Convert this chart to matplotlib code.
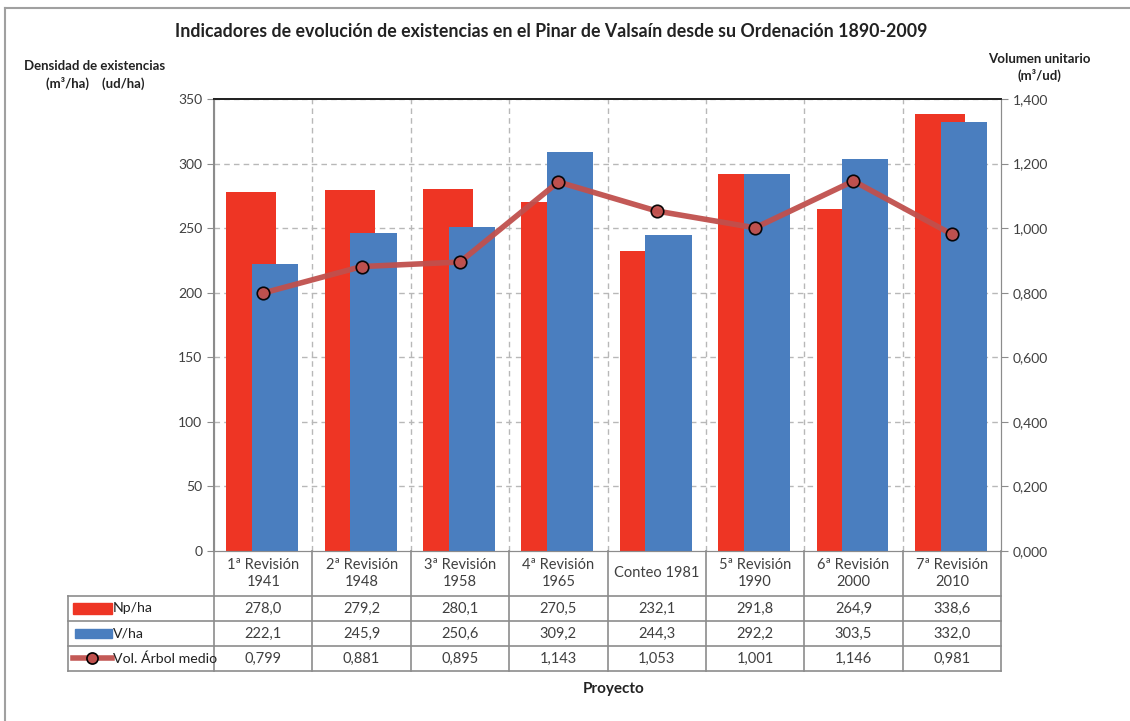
import matplotlib
matplotlib.use('Agg')
import matplotlib.pyplot as plt
from matplotlib.patches import Rectangle
from matplotlib.lines import Line2D
from matplotlib.ticker import FuncFormatter

plt.rcParams['font.family'] = ['Lato', 'DejaVu Sans']

# Data
categorias = ['1ª Revisión\n1941', '2ª Revisión\n1948', '3ª Revisión\n1958', '4ª Revisión\n1965',
              'Conteo 1981', '5ª Revisión\n1990', '6ª Revisión\n2000', '7ª Revisión\n2010']
np_ha = [278.0, 279.2, 280.1, 270.5, 232.1, 291.8, 264.9, 338.6]
v_ha = [222.1, 245.9, 250.6, 309.2, 244.3, 292.2, 303.5, 332.0]
vol_arbol = [0.799, 0.881, 0.895, 1.143, 1.053, 1.001, 1.146, 0.981]

rojo = '#EE3524'
azul = '#4A7EBF'
linea = '#C0504D'
texto = '#404040'
gris = '#8c8c8c'

fig = plt.figure(figsize=(11.3, 7.21), dpi=100)
ax = fig.add_axes([0.1894, 0.2358, 0.6965, 0.6269])
ax2 = ax.twinx()

x = list(range(len(categorias)))
ax.bar([i - 0.12 for i in x], np_ha, width=0.51, color=rojo, zorder=2)
ax.bar([i + 0.12 for i in x], v_ha, width=0.47, color=azul, zorder=3)

ax2.plot(x, vol_arbol, color=linea, lw=4, zorder=4, alpha=0.95,
         marker='o', markersize=9, markerfacecolor=linea, markeredgecolor='black', markeredgewidth=1.2)

ax.set_xlim(-0.5, len(categorias) - 0.5)
ax.set_ylim(0, 350)
ax.set_yticks(range(0, 351, 50))
ax2.set_ylim(0, 1.4)
ax2.set_yticks([i * 0.2 for i in range(8)])
ax2.yaxis.set_major_formatter(FuncFormatter(lambda v, p: '{:.3f}'.format(v).replace('.', ',')))

# grid
for yv in range(50, 351, 50):
    ax.axhline(yv, color='#b8b8b8', lw=1, ls=(0, (4, 3)), zorder=1)
for xv in x[:-1]:
    ax.axvline(xv + 0.5, color='#b8b8b8', lw=1, ls=(0, (4, 3)), zorder=1)

ax.set_xticks([])
for a in (ax, ax2):
    a.spines['top'].set_color('#222222')
    a.spines['top'].set_linewidth(1.3)
    a.spines['left'].set_color(gris)
    a.spines['right'].set_color(gris)
    a.spines['bottom'].set_color(gris)
    a.tick_params(axis='y', colors=gris, labelcolor=texto, labelsize=10, length=5)
ax.spines['left'].set_linewidth(1.5)
ax.set_zorder(ax2.get_zorder() - 1)
ax.patch.set_visible(False)
ax2.patch.set_visible(False)
ax.set_axisbelow(True)

# data table below the axes
tr = ax.get_xaxis_transform()
h_head = 45 / 452
h_row = 25 / 452
y_rows = [0, -h_head, -h_head - h_row, -h_head - 2 * h_row, -h_head - 3 * h_row]
x_left = -1.985
tl = dict(color=gris, lw=1.2, transform=tr, clip_on=False)
for yv in y_rows[1:]:
    ax.add_line(Line2D([x_left, 7.5], [yv, yv], **tl))
for xv in [i - 0.5 for i in range(9)]:
    ax.add_line(Line2D([xv, xv], [0, y_rows[-1]], **tl))
ax.add_line(Line2D([x_left, x_left], [y_rows[1], y_rows[-1]], **tl))

for i, c in enumerate(categorias):
    ax.text(i, -h_head / 2, c, transform=tr, ha='center', va='center', fontsize=10.5,
            color=texto, linespacing=1.3)
    ax.text(i, y_rows[1] - h_row / 2, '{:.1f}'.format(np_ha[i]).replace('.', ','), transform=tr,
            ha='center', va='center', fontsize=10.5, color=texto)
    ax.text(i, y_rows[2] - h_row / 2, '{:.1f}'.format(v_ha[i]).replace('.', ','), transform=tr,
            ha='center', va='center', fontsize=10.5, color=texto)
    ax.text(i, y_rows[3] - h_row / 2, '{:.3f}'.format(vol_arbol[i]).replace('.', ','), transform=tr,
            ha='center', va='center', fontsize=10.5, color=texto)

# row labels with legend keys
etiquetas = ['Np/ha', 'V/ha', 'Vol. Árbol medio']
for k, lab in enumerate(etiquetas):
    yc = y_rows[k + 1] - h_row / 2
    if k == 0:
        ax.add_patch(Rectangle((x_left + 0.05, yc - 0.0122), 0.40, 0.0244, color=rojo,
                               transform=tr, clip_on=False))
    elif k == 1:
        ax.add_patch(Rectangle((x_left + 0.07, yc - 0.009), 0.38, 0.018, color=azul,
                               transform=tr, clip_on=False))
    else:
        ax.add_line(Line2D([x_left + 0.05, x_left + 0.45], [yc, yc], color=linea, lw=4,
                           transform=tr, clip_on=False, alpha=0.95))
        ax.add_line(Line2D([x_left + 0.245], [yc], marker='o', markersize=8, markerfacecolor=linea,
                           markeredgecolor='black', markeredgewidth=1.2, transform=tr, clip_on=False))
    ax.text(x_left + 0.46, yc, lab, transform=tr, ha='left', va='center', fontsize=10.2, color='#222222')

# titles
fig.text(0.488, 0.957, 'Indicadores de evolución de existencias en el Pinar de Valsaín desde su Ordenación 1890-2009',
         ha='center', va='center', fontsize=12.8, fontweight='bold', color='#222222')
fig.text(0.084, 0.908, 'Densidad de existencias', ha='center', va='center', fontsize=9.5,
         fontweight='bold', color='#222222')
fig.text(0.084, 0.884, '(m³/ha)    (ud/ha)', ha='center', va='center', fontsize=9.5,
         fontweight='bold', color='#222222')
fig.text(0.920, 0.918, 'Volumen unitario', ha='center', va='center', fontsize=9.5,
         fontweight='bold', color='#222222')
fig.text(0.920, 0.895, '(m³/ud)', ha='center', va='center', fontsize=9.5,
         fontweight='bold', color='#222222')
fig.text(0.543, 0.045, 'Proyecto', ha='center', va='center', fontsize=11,
         fontweight='bold', color='#222222')

# outer chart border (top and left visible)
fig.add_artist(Line2D([5 / 1130, 1.0], [1 - 8 / 721, 1 - 8 / 721], color='#a0a0a0', lw=1.5,
                      transform=fig.transFigure))
fig.add_artist(Line2D([5 / 1130, 5 / 1130], [1 - 8 / 721, 0.0], color='#a0a0a0', lw=1.5,
                      transform=fig.transFigure))

fig.savefig('out.png', dpi=100)
